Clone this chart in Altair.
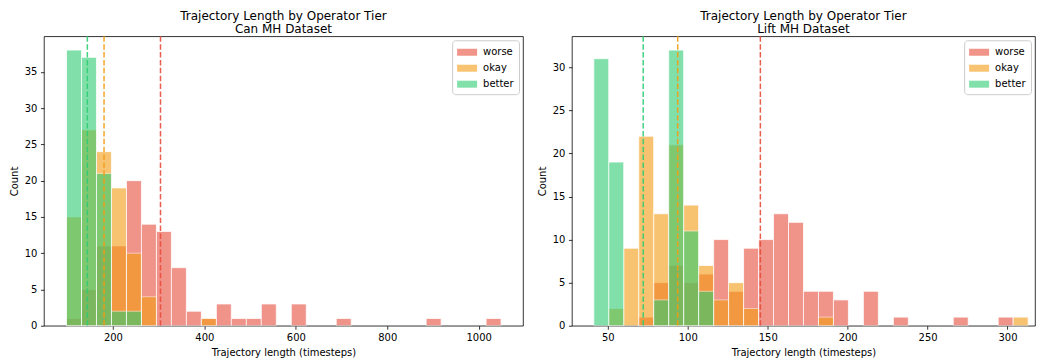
import altair as alt
import numpy as np
import pandas as pd

TIERS = ["worse", "okay", "better"]
COLORS = ["#e74c3c", "#f39c12", "#2ecc71"]
TITLE_MAIN = "Trajectory Length by Operator Tier"
X_TITLE = "Trajectory length (timesteps)"

# ---- Can MH dataset: 29 common bins between lo and hi ----
can_lo, can_hi = 98.4, 1049.0
can_worse = [1, 5, 11, 11, 20, 14, 13, 8, 2, 1, 3, 1, 1, 3, 0, 3, 0, 0, 1, 0, 0, 0, 0, 0, 1, 0, 0, 0, 1]
can_okay = [15, 27, 24, 19, 10, 4, 0, 0, 0, 1, 0, 0, 0, 0, 0, 0, 0, 0, 0, 0, 0, 0, 0, 0, 0, 0, 0, 0, 0]
can_better = [38, 37, 21, 2, 2, 0, 0, 0, 0, 0, 0, 0, 0, 0, 0, 0, 0, 0, 0, 0, 0, 0, 0, 0, 0, 0, 0, 0, 0]
can_means = [304.0, 180.5, 144.0]  # worse, okay, better
can_xticks = [200, 400, 600, 800, 1000]
can_yticks = [0, 5, 10, 15, 20, 25, 30, 35]

# ---- Lift MH dataset ----
lift_lo, lift_hi = 41.2, 312.9
lift_worse = [0, 0, 0, 1, 5, 7, 5, 6, 10, 4, 9, 10, 13, 12, 4, 4, 3, 0, 4, 0, 1, 0, 0, 0, 1, 0, 0, 1, 0]
lift_okay = [0, 2, 9, 22, 13, 21, 14, 7, 3, 5, 2, 0, 0, 0, 0, 1, 0, 0, 0, 0, 0, 0, 0, 0, 0, 0, 0, 0, 1]
lift_better = [31, 19, 0, 0, 3, 32, 11, 4, 0, 0, 0, 0, 0, 0, 0, 0, 0, 0, 0, 0, 0, 0, 0, 0, 0, 0, 0, 0, 0]
lift_means = [145.4, 93.7, 72.1]
lift_xticks = [50, 100, 150, 200, 250, 300]
lift_yticks = [0, 5, 10, 15, 20, 25, 30]

FONT = "DejaVu Sans"
LEGEND_SHAPE = "M-1.43,-0.5L1.43,-0.5L1.43,0.5L-1.43,0.5Z"


def panel(subtitle, lo, hi, series, means, xdomain, ydomain, xticks, yticks, width, height):
    edges = np.linspace(lo, hi, len(series[0]) + 1)
    rows = []
    for tier, counts in zip(TIERS, series):
        for i, c in enumerate(counts):
            if c > 0:
                rows.append({"tier": tier, "x0": edges[i], "x1": edges[i + 1], "count": c, "base": 0})
    bars = pd.DataFrame(rows)
    mdf = pd.DataFrame({"tier": TIERS, "mean": means})

    xscale = alt.Scale(domain=xdomain, nice=False, zero=False)
    yscale = alt.Scale(domain=ydomain, nice=False)
    xaxis = alt.Axis(values=xticks, format="d", title=X_TITLE)
    yaxis = alt.Axis(values=yticks, format="d", title="Count")
    cscale = alt.Scale(domain=TIERS, range=COLORS)
    legend = alt.Legend(title=None, orient="top-right")

    layers = []
    for tier in TIERS:
        layers.append(
            alt.Chart(bars)
            .transform_filter(alt.datum.tier == tier)
            .mark_bar(opacity=0.6, stroke="white", strokeWidth=0.8)
            .encode(
                x=alt.X("x0:Q", scale=xscale, axis=xaxis),
                x2="x1:Q",
                y=alt.Y("count:Q", scale=yscale, axis=yaxis),
                y2="base:Q",
                color=alt.Color("tier:N", scale=cscale, legend=legend),
            )
        )
    for tier, col in zip(TIERS, COLORS):
        layers.append(
            alt.Chart(mdf)
            .transform_filter(alt.datum.tier == tier)
            .mark_rule(color=col, strokeDash=[5.5, 2.4], strokeWidth=1.5, opacity=0.9)
            .encode(x=alt.X("mean:Q", scale=xscale, axis=xaxis))
        )
    return alt.layer(*layers).properties(
        width=width,
        height=height,
        title=alt.TitleParams(text=[TITLE_MAIN, subtitle], anchor="middle", offset=0, lineHeight=13),
    )


left = panel("Can MH Dataset", can_lo, can_hi, [can_worse, can_okay, can_better], can_means,
             [49, 1097], [0, 39.9], can_xticks, can_yticks, 480, 290)
right = panel("Lift MH Dataset", lift_lo, lift_hi, [lift_worse, lift_okay, lift_better], lift_means,
              [27.5, 317.2], [0, 33.6], lift_xticks, lift_yticks, 464, 290)

chart = (
    alt.hconcat(left, right, spacing=12)
    .resolve_scale(color="independent", x="independent", y="independent")
    .resolve_legend(color="independent")
    .properties(padding=0)
    .configure_view(stroke="black", strokeWidth=0.8)
    .configure_axis(
        grid=False, domain=False, tickColor="black", tickWidth=0.8, tickSize=3.5,
        labelFont=FONT, labelFontSize=10, labelColor="black", labelPadding=3.5,
        titleFont=FONT, titleFontSize=10, titleFontWeight="normal", titleColor="black",
    )
    .configure_axisX(titlePadding=5)
    .configure_axisY(titlePadding=5)
    .configure_title(font=FONT, fontSize=12, fontWeight="normal", color="black")
    .configure_legend(
        offset=4, padding=5, fillColor="rgba(255,255,255,0.8)", strokeColor="#cccccc",
        cornerRadius=3, symbolType=LEGEND_SHAPE, symbolSize=196, symbolOpacity=0.6,
        symbolStrokeWidth=0, symbolOffset=3, labelFont=FONT, labelFontSize=10,
        labelColor="black", labelOffset=9, rowPadding=4,
    )
)

chart.save("out.html", embed_options={"renderer": "svg", "actions": False})
